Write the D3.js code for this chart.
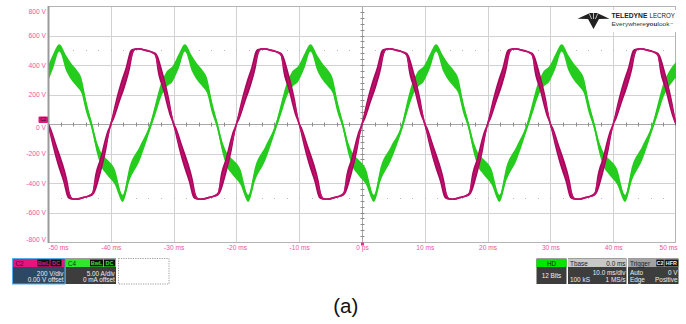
<!DOCTYPE html>
<html><head><meta charset="utf-8">
<script src="https://cdn.jsdelivr.net/npm/d3@7"></script>
<style>html,body{margin:0;padding:0;background:#fff;}svg{display:block;font-family:"Liberation Sans",Arial,sans-serif;}</style>
</head><body><svg id="c" width="686" height="324"></svg>
<script>
// ---- data ----
const timeTicks = [-50,-40,-30,-20,-10,0,10,20,30,40,50];
const timeLabels = ["-50 ms","-40 ms","-30 ms","-20 ms","-10 ms","0 ps","10 ms","20 ms","30 ms","40 ms","50 ms"];
const voltTicks = [800,600,400,200,0,-200,-400,-600,-800];
const voltLabels = ["800 V","600 V","400 V","200 V","0 V","-200 V","-400 V","-600 V","-800 V"];
const minorDotLevels = [500,-500];
// C2 voltage: [time ms, volts, ripple half-band volts]
const voltage = [
[-50,0,15],[-49.5,-70,40],[-48.5,-215,58],[-47.6,-330,60],[-46.9,-440,58],[-46.5,-490,20],[-46.1,-508,6],[-45.5,-510,6],[-44.5,-500,6],[-43.5,-488,6],[-42.9,-472,12],[-42.6,-420,50],[-41.7,-290,60],[-40.7,-120,55],[-40,0,15],
[-39.5,70,40],[-38.5,215,58],[-37.6,330,60],[-36.9,440,58],[-36.5,490,20],[-36.1,508,6],[-35.5,510,6],[-34.5,500,6],[-33.5,488,6],[-32.9,472,12],[-32.6,420,50],[-31.7,290,60],[-30.7,120,55],[-30,0,15],
[-29.5,-70,40],[-28.5,-215,58],[-27.6,-330,60],[-26.9,-440,58],[-26.5,-490,20],[-26.1,-508,6],[-25.5,-510,6],[-24.5,-500,6],[-23.5,-488,6],[-22.9,-472,12],[-22.6,-420,50],[-21.7,-290,60],[-20.7,-120,55],[-20,0,15],
[-19.5,70,40],[-18.5,215,58],[-17.6,330,60],[-16.9,440,58],[-16.5,490,20],[-16.1,508,6],[-15.5,510,6],[-14.5,500,6],[-13.5,488,6],[-12.9,472,12],[-12.6,420,50],[-11.7,290,60],[-10.7,120,55],[-10,0,15],
[-9.5,-70,40],[-8.5,-215,58],[-7.6,-330,60],[-6.9,-440,58],[-6.5,-490,20],[-6.1,-508,6],[-5.5,-510,6],[-4.5,-500,6],[-3.5,-488,6],[-2.9,-472,12],[-2.6,-420,50],[-1.7,-290,60],[-0.7,-120,55],[0,0,15],
[0.5,70,40],[1.5,215,58],[2.4,330,60],[3.1,440,58],[3.5,490,20],[3.9,508,6],[4.5,510,6],[5.5,500,6],[6.5,488,6],[7.1,472,12],[7.4,420,50],[8.3,290,60],[9.3,120,55],[10,0,15],
[10.5,-70,40],[11.5,-215,58],[12.4,-330,60],[13.1,-440,58],[13.5,-490,20],[13.9,-508,6],[14.5,-510,6],[15.5,-500,6],[16.5,-488,6],[17.1,-472,12],[17.4,-420,50],[18.3,-290,60],[19.3,-120,55],[20,0,15],
[20.5,70,40],[21.5,215,58],[22.4,330,60],[23.1,440,58],[23.5,490,20],[23.9,508,6],[24.5,510,6],[25.5,500,6],[26.5,488,6],[27.1,472,12],[27.4,420,50],[28.3,290,60],[29.3,120,55],[30,0,15],
[30.5,-70,40],[31.5,-215,58],[32.4,-330,60],[33.1,-440,58],[33.5,-490,20],[33.9,-508,6],[34.5,-510,6],[35.5,-500,6],[36.5,-488,6],[37.1,-472,12],[37.4,-420,50],[38.3,-290,60],[39.3,-120,55],[40,0,15],
[40.5,70,40],[41.5,215,58],[42.4,330,60],[43.1,440,58],[43.5,490,20],[43.9,508,6],[44.5,510,6],[45.5,500,6],[46.5,488,6],[47.1,472,12],[47.4,420,50],[48.3,290,60],[49.3,120,55],[50,0,15]
];
// C4 current: [time ms, amps, ripple half-band amps]
const current = [
[-50,8.5,1.3],[-49.1,10.85,1.2],[-48.2,12.9,0.6],[-47.1,10.3,1.3],[-46.3,8.9,1.4],[-45.3,7.6,1.4],[-44.7,6.6,1.3],[-43.9,2.9,1.0],[-43.1,0,0.6],[-42.1,-4.4,1.0],[-41.5,-6.1,1.2],[-40.7,-7.2,1.3],[-39.4,-8.9,1.3],[-38.1,-12.6,0.6],[-37.0,-8.35,1.2],[-35.4,-5.0,1.2],[-33.6,0,0.6],
[-32.8,2.9,1.0],[-32.0,5.75,1.2],[-31.2,7.45,1.3],[-30.1,8.6,1.3],[-29.1,10.85,1.2],[-28.2,12.9,0.6],[-27.1,10.3,1.3],[-26.3,8.9,1.4],[-25.3,7.6,1.4],[-24.7,6.6,1.3],[-23.9,2.9,1.0],[-23.1,0,0.6],[-22.1,-4.4,1.0],[-21.5,-6.1,1.2],[-20.7,-7.2,1.3],[-19.4,-8.9,1.3],[-18.1,-12.6,0.6],[-17.0,-8.35,1.2],[-15.4,-5.0,1.2],[-13.6,0,0.6],
[-12.8,2.9,1.0],[-12.0,5.75,1.2],[-11.2,7.45,1.3],[-10.1,8.6,1.3],[-9.1,10.85,1.2],[-8.2,12.9,0.6],[-7.1,10.3,1.3],[-6.3,8.9,1.4],[-5.3,7.6,1.4],[-4.7,6.6,1.3],[-3.9,2.9,1.0],[-3.1,0,0.6],[-2.1,-4.4,1.0],[-1.5,-6.1,1.2],[-0.7,-7.2,1.3],[0.6,-8.9,1.3],[1.9,-12.6,0.6],[3.0,-8.35,1.2],[4.6,-5.0,1.2],[6.5,0,0.6],
[7.2,2.9,1.0],[8.0,5.75,1.2],[8.8,7.45,1.3],[9.9,8.6,1.3],[10.9,10.85,1.2],[11.8,12.9,0.6],[12.9,10.3,1.3],[13.7,8.9,1.4],[14.7,7.6,1.4],[15.3,6.6,1.3],[16.1,2.9,1.0],[16.9,0,0.6],[17.9,-4.4,1.0],[18.5,-6.1,1.2],[19.3,-7.2,1.3],[20.6,-8.9,1.3],[21.9,-12.6,0.6],[23.0,-8.35,1.2],[24.6,-5.0,1.2],[26.4,0,0.6],
[27.2,2.9,1.0],[28.0,5.75,1.2],[28.8,7.45,1.3],[29.9,8.6,1.3],[30.9,10.85,1.2],[31.8,12.9,0.6],[32.9,10.3,1.3],[33.7,8.9,1.4],[34.7,7.6,1.4],[35.3,6.6,1.3],[36.1,2.9,1.0],[36.9,0,0.6],[37.9,-4.4,1.0],[38.5,-6.1,1.2],[39.3,-7.2,1.3],[40.6,-8.9,1.3],[41.9,-12.6,0.6],[43.0,-8.35,1.2],[44.6,-5.0,1.2],[46.4,0,0.6],
[47.2,2.9,1.0],[48.0,5.75,1.2],[48.8,7.45,1.3],[50.0,9.2,1.3]
];
const c2Info = ["200 V/div","0.00 V offset"];
const c4Info = ["5.00 A/div","0 mA offset"];
const tbaseInfo = ["0.0 ms","10.0 ms/div","100 kS","1 MS/s"];
const trigInfo = ["Auto","0 V","Edge","Positive"];

// ---- scales ----
const L=48,R=676,T=6,B=242;
const x = d3.scaleLinear().domain([-50,50]).range([L,R]);
const yV = d3.scaleLinear().domain([-800,800]).range([B,T]);
const yI = d3.scaleLinear().domain([-20,20]).range([B,T]);
const svg = d3.select("#c");
const pink = "#f2529c";

// grid
const g = svg.append("g");
g.selectAll("line.gv").data(timeTicks.slice(1,-1).filter(d=>d!==0)).join("line")
 .attr("x1",d=>Math.round(x(d))+0.5).attr("x2",d=>Math.round(x(d))+0.5).attr("y1",T).attr("y2",B)
 .attr("stroke","#d2d2d2").attr("stroke-width",1);
g.selectAll("line.gh").data(voltTicks.slice(1,-1).filter(d=>d!==0)).join("line")
 .attr("y1",d=>Math.round(yV(d))+0.5).attr("y2",d=>Math.round(yV(d))+0.5).attr("x1",L).attr("x2",R)
 .attr("stroke","#d2d2d2").attr("stroke-width",1);
// minor dots
const dotTimes = d3.range(-48,50,2);
minorDotLevels.forEach(lv=>{
  g.selectAll(null).data(dotTimes).join("rect")
   .attr("x",d=>Math.round(x(d))).attr("y",Math.round(yV(lv))).attr("width",1).attr("height",1).attr("fill","#b8b8b8");
});
// center axes
const y0 = Math.round(yV(0))+0.5, x0 = Math.round(x(0))+0.5;
g.append("line").attr("x1",L).attr("x2",R).attr("y1",y0).attr("y2",y0).attr("stroke","#a8a8a8");
g.append("line").attr("x1",x0).attr("x2",x0).attr("y1",T).attr("y2",B).attr("stroke","#a8a8a8");
g.selectAll(null).data(d3.range(-48,50,2)).join("line")
 .attr("x1",d=>Math.round(x(d))+0.5).attr("x2",d=>Math.round(x(d))+0.5).attr("y1",y0-2).attr("y2",y0+2).attr("stroke","#8c8c8c");
g.selectAll(null).data(d3.range(-760,800,40)).join("line")
 .attr("y1",d=>Math.round(yV(d))+0.5).attr("y2",d=>Math.round(yV(d))+0.5).attr("x1",x0-2).attr("x2",x0+2).attr("stroke","#8c8c8c");
// border
g.append("rect").attr("x",L+0.5).attr("y",T+0.5).attr("width",R-L-1).attr("height",B-T).attr("fill","none").attr("stroke","#b4b4b4");
g.append("line").attr("x1",L+0.5).attr("x2",L+0.5).attr("y1",T).attr("y2",B+1).attr("stroke","#9a9a9a").attr("stroke-width",2);

// logo
const logo = svg.append("g");
logo.append("rect").attr("x",574).attr("y",10).attr("width",102).attr("height",22).attr("fill","#fff");
logo.append("path").attr("d","M577.5,18.8 L590,13 L597,13 L609.5,18.8 L599,19 L593.5,29 L588,19 Z").attr("fill","#222");
logo.append("path").attr("d","M589.3,13.6 L591.6,19 M597.7,13.6 L595.4,19 M593.5,13 L593.5,19").attr("stroke","#fff").attr("stroke-width",0.7);
logo.append("text").attr("x",611.5).attr("y",18.4).attr("font-size",7.2).attr("fill","#222").attr("font-weight","bold")
  .attr("textLength",36).attr("lengthAdjust","spacingAndGlyphs").text("TELEDYNE");
logo.append("text").attr("x",649.5).attr("y",18.4).attr("font-size",7.2).attr("fill","#222")
  .attr("textLength",25.5).attr("lengthAdjust","spacingAndGlyphs").text("LECROY");
const lt2 = logo.append("text").attr("x",611.5).attr("y",26.4).attr("font-size",6.2).attr("fill","#333")
  .attr("textLength",58).attr("lengthAdjust","spacingAndGlyphs");
lt2.append("tspan").text("Everywhere");
lt2.append("tspan").attr("font-weight","bold").text("you");
lt2.append("tspan").text("look");
logo.append("text").attr("x",670.5).attr("y",24.6).attr("font-size",2.8).attr("fill","#555").text("™");

// axes
const ya = svg.append("g").attr("transform",`translate(${L},0)`)
 .call(d3.axisLeft(yV).tickValues(voltTicks).tickFormat((d,i)=>voltLabels[i]).tickSize(0).tickPadding(2));
ya.select(".domain").remove();
ya.selectAll("text").attr("fill",pink).attr("font-size",6.7).attr("font-family","Liberation Sans, Arial, sans-serif");
ya.selectAll(".tick").filter(d=>d===800).select("text").attr("dy","1.05em");
ya.selectAll(".tick").filter(d=>d===-800).select("text").attr("dy","-0.15em");
ya.selectAll(".tick").filter(d=>d===0).select("text").attr("dy","0.75em");

const xa = svg.append("g").attr("transform",`translate(0,${B})`)
 .call(d3.axisBottom(x).tickValues(timeTicks).tickFormat((d,i)=>timeLabels[i]).tickSize(0).tickPadding(3));
xa.select(".domain").remove();
xa.selectAll("text").attr("fill",pink).attr("font-size",6.6).attr("font-family","Liberation Sans, Arial, sans-serif");
xa.selectAll(".tick").filter(d=>d===-50).select("text").attr("text-anchor","start");
xa.selectAll(".tick").filter(d=>d===50).select("text").attr("text-anchor","end").attr("dx","1");

// waveforms
svg.append("clipPath").attr("id","pc").append("rect").attr("x",L+1).attr("y",T).attr("width",R-L-1).attr("height",B-T);
const wv = svg.append("g").attr("clip-path","url(#pc)");
const areaI = d3.area().x(d=>x(d[0])).y0(d=>yI(d[1]-d[2])).y1(d=>yI(d[1]+d[2])).curve(d3.curveMonotoneX);
const lineI = d3.line().x(d=>x(d[0])).y(d=>yI(d[1])).curve(d3.curveMonotoneX);
const areaV = d3.area().x(d=>x(d[0])).y0(d=>yV(d[1]-d[2])).y1(d=>yV(d[1]+d[2])).curve(d3.curveMonotoneX);
const lineV = d3.line().x(d=>x(d[0])).y(d=>yV(d[1])).curve(d3.curveMonotoneX);
wv.append("path").attr("d",areaI(current)).attr("fill","#25cc1e");
wv.append("path").attr("d",lineI(current)).attr("fill","none").attr("stroke","#25cc1e").attr("stroke-width",1.8);
wv.append("path").attr("d",areaV(voltage)).attr("fill","#a8085c");
wv.append("path").attr("d",lineV(voltage)).attr("fill","none").attr("stroke","#c0106e").attr("stroke-width",1.6);

// channel marker and trigger marker
svg.append("rect").attr("x",38.5).attr("y",116.5).attr("width",9.5).attr("height",6.5).attr("rx",1).attr("fill","#e3157f");
svg.append("text").attr("x",40.2).attr("y",121.4).attr("font-size",4.6).attr("fill","#3a0a20").text("C2");
svg.append("rect").attr("x",x0-1.5).attr("y",242.5).attr("width",3).attr("height",3).attr("fill","#f0288a");

// info boxes
const fs = 6.4;
function headBox(bx,bw,headFill,bodyFill,stroke){
  svg.append("rect").attr("x",bx).attr("y",258.5).attr("width",bw).attr("height",25.5).attr("fill",bodyFill)
    .attr("stroke",stroke||"none").attr("stroke-width",1);
  svg.append("rect").attr("x",bx+(stroke?0.5:0)).attr("y",259).attr("width",bw-(stroke?1:0)).attr("height",8).attr("fill",headFill);
}
function txt(tx,ty,s,anchor,fill,size,weight){
  return svg.append("text").attr("x",tx).attr("y",ty).attr("font-size",size||fs).attr("fill",fill||"#eee")
   .attr("text-anchor",anchor||"start").attr("font-weight",weight||"normal").text(s);
}
function tag(tx,tw,s,fill){
  svg.append("rect").attr("x",tx).attr("y",259.6).attr("width",tw).attr("height",6.8).attr("fill","#111");
  txt(tx+tw/2,265.3,s,"middle",fill,5.4,"bold");
}
// C2
headBox(12.5,52.5,"#e3157f","#2c4862","#56aee8");
txt(15.5,265.5,"C2","start","#3b0b24");
tag(37.5,12,"BwL","#e3157f"); tag(50.5,11,"DC","#e3157f");
txt(63.5,275.6,c2Info[0],"end"); txt(63.5,282.3,c2Info[1],"end");
// C4
headBox(65.5,50.5,"#2ee82e","#3d3d3d");
txt(68,265.5,"C4","start","#0b3b0b");
tag(90,13,"BwL","#2ee82e"); tag(104,11,"DC","#2ee82e");
txt(114.8,275.6,c4Info[0],"end"); txt(114.8,282.3,c4Info[1],"end");
// empty dashed
svg.append("rect").attr("x",118.5).attr("y",258.5).attr("width",50.5).attr("height",25.5).attr("fill","none")
  .attr("stroke","#9a9a9a").attr("stroke-dasharray","1.2,1.2");
// HD
headBox(536.5,30,"#00e600","#3d3d3d");
txt(551.5,265.5,"HD","middle","#111");
txt(551.5,278,"12 Bits","middle");
// Tbase
headBox(568,58.5,"#c8c8c8","#3d3d3d");
txt(570,265.5,"Tbase","start","#222"); txt(625.5,265.5,tbaseInfo[0],"end","#222");
txt(625.5,275.2,tbaseInfo[1],"end"); txt(570,282.3,tbaseInfo[2],"start"); txt(625.5,282.3,tbaseInfo[3],"end");
// Trigger
headBox(628,50.5,"#a2a2a2","#3d3d3d");
txt(630,265.5,"Trigger","start","#222");
tag(656.3,7.5,"C2","#eee"); tag(664.6,13.6,"HFR","#eee");
txt(677.5,275.2,trigInfo[1],"end"); txt(630,275.2,trigInfo[0],"start");
txt(630,282.3,trigInfo[2],"start"); txt(677.5,282.3,trigInfo[3],"end");

// caption
svg.append("text").attr("x",345.8).attr("y",313).attr("text-anchor","middle").attr("font-size",20.5).attr("fill","#111").text("(a)");
</script></body></html>
